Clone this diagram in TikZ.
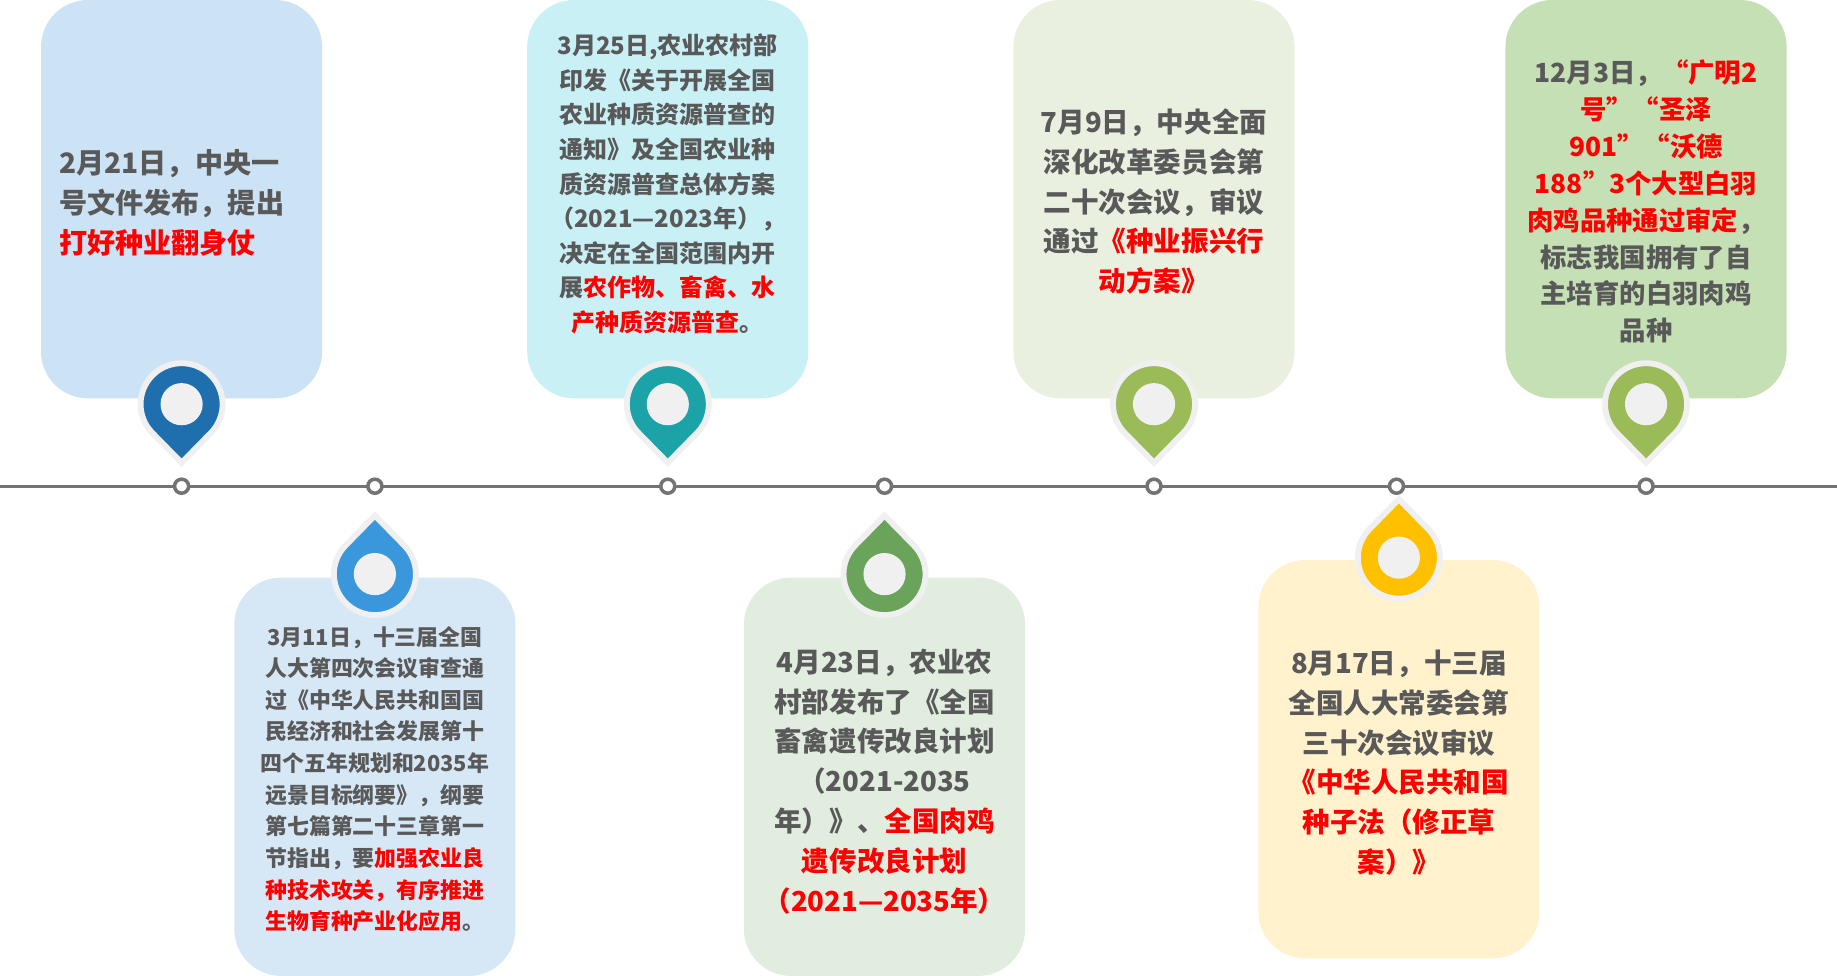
\documentclass[tikz,border=0pt]{standalone}
\usepackage{fontspec}
\setmainfont{Noto Sans CJK SC}
\definecolor{tg}{HTML}{595959}
\definecolor{tr}{HTML}{FF0000}
\definecolor{b1}{HTML}{CCE3F5}
\definecolor{b2}{HTML}{D6E7F6}
\definecolor{b3}{HTML}{C8F0F5}
\definecolor{b4}{HTML}{E0EDDF}
\definecolor{b5}{HTML}{EAF0DF}
\definecolor{b6}{HTML}{FFF2CC}
\definecolor{b7}{HTML}{C5E0B4}
\definecolor{p1}{HTML}{1F6FAE}
\definecolor{p2}{HTML}{3A97DC}
\definecolor{p3}{HTML}{1BA3A8}
\definecolor{p4}{HTML}{6AA35A}
\definecolor{p5}{HTML}{9BBB59}
\definecolor{p7}{HTML}{FFC000}
\newcommand{\R}[1]{\textcolor{tr}{#1}}
\newcommand{\pinup}[3]{% x, center y, color (tip below)
  \fill[#3, draw=black!6, line width=5pt] (#1,#2+50) -- ($(#1,#2)+(-44.4:35 and -35)$) arc[start angle=44.4, end angle=-224.4, radius=35] -- cycle;
  \fill[black!6] (#1,#2) circle (18);}
\newcommand{\pindown}[3]{% x, center y, color (tip above)
  \fill[#3, draw=black!6, line width=5pt] (#1,#2-50) -- ($(#1,#2)+(44.4:35 and -35)$) arc[start angle=-44.4, end angle=224.4, radius=35] -- cycle;
  \fill[black!6] (#1,#2) circle (18);}
\usetikzlibrary{calc}
\tikzset{
  box/.style={rounded corners=40pt, minimum width=240pt, minimum height=340pt, inner sep=0},
  txt/.style={text=tg, font=\bfseries, align=center, inner sep=0},
  dot/.style={circle, draw=gray!90!black, line width=3pt, fill=white, minimum size=12pt, inner sep=0}
}
\begin{document}
\begin{tikzpicture}[x=1pt,y=-1pt]
\useasboundingbox (0,0) rectangle (1568,833);
% boxes
\node[box, fill=b1] (B1) at (155,170) {};
\node[box, fill=b3] (B3) at (570,170) {};
\node[box, fill=b5] (B5) at (985,170) {};
\node[box, fill=b7] (B7) at (1405,170) {};
\node[box, fill=b2] (B2) at (320,663) {};
\node[box, fill=b4] (B4) at (755,663) {};
\node[box, fill=b6] (B6) at (1194,648) {};
% timeline
\coordinate (L0) at (0,415); \coordinate (L1) at (1568,415);
\draw[gray!90!black, line width=2.5pt] (L0) -- (L1);
\foreach \x/\n in {155/d1,320/d2,570/d3,755/d4,985/d5,1192/d6,1405/d7}
  \node[dot] (\n) at (\x,415) {};
% pins
\pinup{155}{345}{p1}
\pinup{570}{345}{p3}
\pinup{985}{345}{p5}
\pinup{1405}{345}{p5}
\pindown{320}{490}{p2}
\pindown{755}{490}{p4}
\pindown{1194}{476}{p7}
% texts
\node[txt, align=left, font=\bfseries\fontsize{24}{34}\selectfont] (T1) at (155,173) {2月21日，中央一\\号文件发布，提出\\\R{打好种业翻身仗}\hspace*{1.7em}};
\node[txt, font=\bfseries\fontsize{20.5}{29.5}\selectfont] (T3) at (570,157) {3月25日,农业农村部\\印发《关于开展全国\\农业种质资源普查的\\通知》及全国农业种\\质资源普查总体方案\\（2021—2023年），\\决定在全国范围内开\\展\R{农作物、畜禽、水}\\\R{产种质资源普查}。};
\node[txt, font=\bfseries\fontsize{23.5}{34}\selectfont] (T5) at (985,172) {7月9日，中央全面\\深化改革委员会第\\二十次会议，审议\\通过\R{《种业振兴行}\\\R{动方案》}};
\node[txt, font=\bfseries\fontsize{22.5}{31.5}\selectfont] (T7) at (1405,172) {12月3日，\R{“广明2}\\\R{号”“圣泽}\\\R{901”“沃德}\\\R{188”3个大型白羽}\\\R{肉鸡品种通过审定}，\\标志我国拥有了自\\主培育的白羽肉鸡\\品种};
\node[txt, font=\bfseries\fontsize{18.7}{27}\selectfont] (T2) at (320,665) {3月11日，十三届全国\\人大第四次会议审查通\\过《中华人民共和国国\\民经济和社会发展第十\\四个五年规划和2035年\\远景目标纲要》，纲要\\第七篇第二十三章第一\\节指出，要\R{加强农业良}\\\R{种技术攻关，有序推进}\\\R{生物育种产业化应用}。};
\node[txt, font=\bfseries\fontsize{23.5}{34}\selectfont] (T4) at (755,667) {4月23日，农业农\\村部发布了《全国\\畜禽遗传改良计划\\（2021-2035\\年）》、\R{全国肉鸡}\\\R{遗传改良计划}\\\R{（2021—2035年）}};
\node[txt, font=\bfseries\fontsize{23.5}{34}\selectfont] (T6) at (1194,651) {8月17日，十三届\\全国人大常委会第\\三十次会议审议\\\R{《中华人民共和国}\\\R{种子法（修正草}\\\R{案）》}};
\end{tikzpicture}
\end{document}
